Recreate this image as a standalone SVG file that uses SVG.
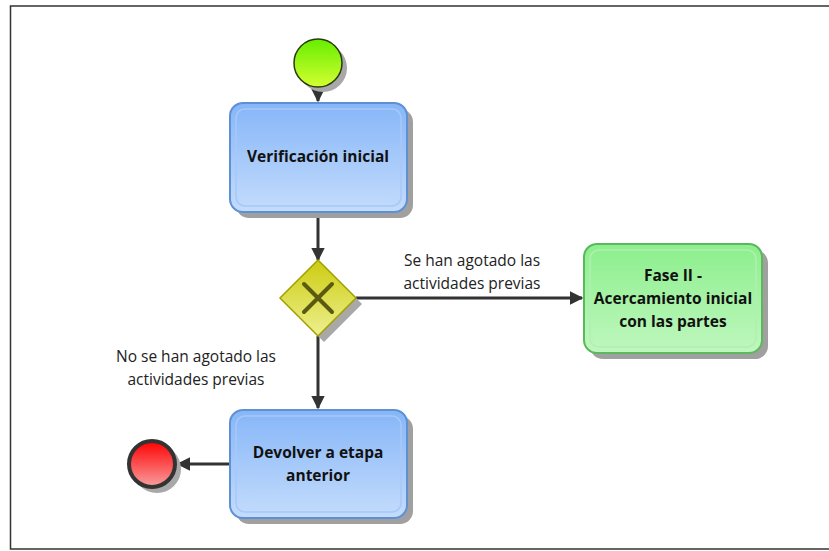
<svg xmlns="http://www.w3.org/2000/svg" width="829" height="551" viewBox="0 0 829 551">
<defs>
<linearGradient id="gBlue" x1="0" y1="0" x2="0" y2="1"><stop offset="0" stop-color="#86b6f8"/><stop offset="1" stop-color="#c4dcfc"/></linearGradient>
<linearGradient id="gGreen" x1="0" y1="0" x2="0" y2="1"><stop offset="0" stop-color="#8cef8c"/><stop offset="1" stop-color="#bff7bf"/></linearGradient>
<linearGradient id="gStart" x1="0" y1="0" x2="0" y2="1"><stop offset="0" stop-color="#66ee00"/><stop offset="1" stop-color="#d4ff30"/></linearGradient>
<linearGradient id="gEnd" x1="0" y1="0" x2="0" y2="1"><stop offset="0" stop-color="#ff0000"/><stop offset="1" stop-color="#f8a0a0"/></linearGradient>
<linearGradient id="gGate" x1="0" y1="0" x2="0" y2="1"><stop offset="0" stop-color="#cccc10"/><stop offset="1" stop-color="#eef090"/></linearGradient>
<marker id="arr" viewBox="0 0 10 10" refX="9" refY="5" markerWidth="4.5" markerHeight="4.5" orient="auto"><path d="M0,0 L10,5 L0,10 Z" fill="#333"/></marker>
<style>
.task{fill:url(#gBlue);stroke:#5e90d4;stroke-width:2}
.inner{fill:none;stroke:#a8c8f8;stroke-width:1.5}
.shadow{fill:#a0a0a0}
.gtask{fill:url(#gGreen);stroke:#5cb85c;stroke-width:2}
.ginner{fill:none;stroke:#b0f0b0;stroke-width:1.5}
.lbl{font-family:"Open Sans","Liberation Sans",sans-serif;font-weight:bold;font-size:15.5px;fill:#111;text-anchor:middle}
.txt{font-family:"Open Sans","Liberation Sans",sans-serif;font-size:15.5px;fill:#222;text-anchor:middle}
.con{stroke:#333;stroke-width:3;fill:none}
</style>
</defs>
<rect width="829" height="551" fill="#fff"/>
<rect x="10.5" y="6" width="830" height="543" fill="none" stroke="#333" stroke-width="1.5"/>

<g id="connectors">
<line class="con" x1="318" y1="86" x2="318" y2="101" marker-end="url(#arr)"/>
<line class="con" x1="318" y1="212" x2="318" y2="260" marker-end="url(#arr)"/>
<line class="con" x1="356" y1="298" x2="582" y2="298" marker-end="url(#arr)"/>
<line class="con" x1="318" y1="336" x2="318" y2="408" marker-end="url(#arr)"/>
<line class="con" x1="230" y1="464" x2="178" y2="464" marker-end="url(#arr)"/>
<text class="txt" x="472" y="266">Se han agotado las</text>
<text class="txt" x="472" y="289">actividades previas</text>
<text class="txt" x="196" y="362">No se han agotado las</text>
<text class="txt" x="196" y="385">actividades previas</text>
</g>

<g id="start">
<circle cx="323" cy="68" r="24" fill="#a8a8a8"/>
<circle cx="318" cy="63" r="24" fill="url(#gStart)" stroke="#2a3a10" stroke-width="1.5"/>
</g>

<g id="verificacion">
<rect class="shadow" x="236" y="109" width="177" height="109" rx="13"/>
<rect class="task" x="230" y="103" width="177" height="109" rx="13"/>
<rect class="inner" x="236" y="109" width="165" height="97" rx="9"/>
<text class="lbl" x="318" y="162">Verificación inicial</text>
</g>

<g id="gateway">
<polygon points="324,266 362,304 324,342 286,304" fill="#a8a8a8"/>
<polygon points="318,260 356,298 318,336 280,298" fill="url(#gGate)" stroke="#a0a000" stroke-width="1.5"/>
<path d="M304,284 L332,312 M332,284 L304,312" stroke="#5a5a10" stroke-width="4" stroke-linecap="round"/>
</g>

<g id="fase2">
<rect class="shadow" x="590" y="250" width="178" height="109" rx="13"/>
<rect class="gtask" x="584" y="244" width="178" height="109" rx="13"/>
<rect class="ginner" x="590" y="250" width="166" height="97" rx="9"/>
<text class="lbl" x="673" y="281">Fase II -</text>
<text class="lbl" x="673" y="304">Acercamiento inicial</text>
<text class="lbl" x="673" y="327">con las partes</text>
</g>

<g id="devolver">
<rect class="shadow" x="236" y="416" width="177" height="108" rx="13"/>
<rect class="task" x="230" y="410" width="177" height="108" rx="13"/>
<rect class="inner" x="236" y="416" width="165" height="96" rx="9"/>
<text class="lbl" x="318" y="458">Devolver a etapa</text>
<text class="lbl" x="318" y="481">anterior</text>
</g>

<g id="end">
<circle cx="157" cy="469" r="24" fill="#a8a8a8"/>
<circle cx="152" cy="464" r="23" fill="url(#gEnd)" stroke="#333" stroke-width="4"/>
</g>
</svg>
